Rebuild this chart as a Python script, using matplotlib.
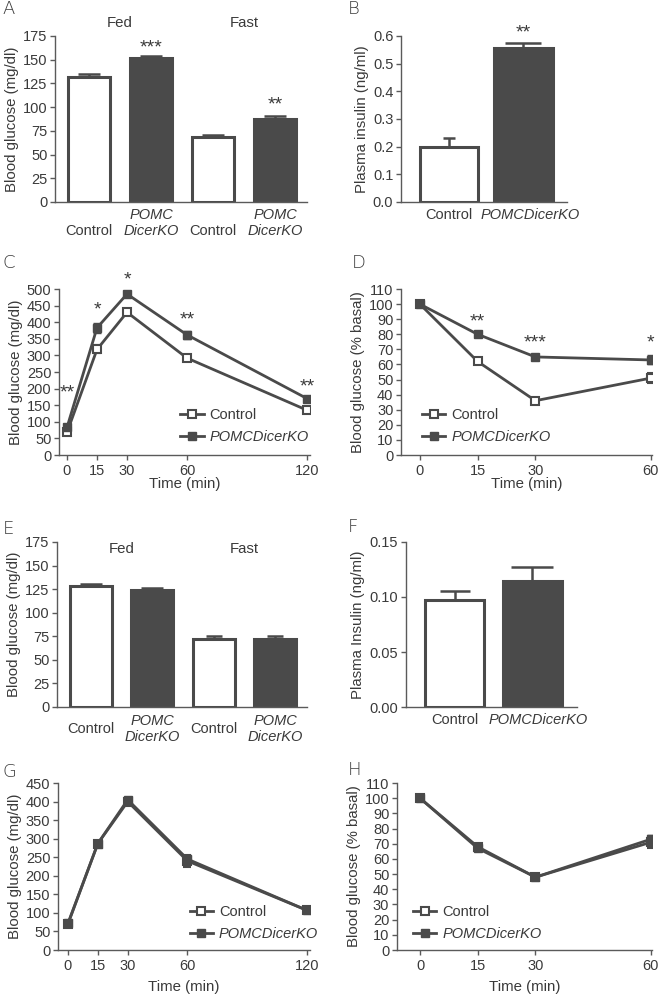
import matplotlib
matplotlib.use('Agg')
import matplotlib.pyplot as plt
from matplotlib.lines import Line2D
from matplotlib.transforms import ScaledTranslation
import numpy as np

plt.rcParams['font.family'] = ['Liberation Sans', 'DejaVu Sans']
plt.rcParams['font.size'] = 10.5

# ---- data ----
groups = ['Fed', 'Fast']
bar_labels_4 = ['\nControl', 'POMC\nDicerKO', '\nControl', 'POMC\nDicerKO']
bar_labels_2 = ['Control', 'POMCDicerKO']

# A: blood glucose, fed / fast
a_vals = [132, 152, 68, 87]
a_err = [3, 1.5, 2.5, 4]
a_stars = ['', '***', '', '**']
a_star_y = [0, 162, 0, 102]

# B: plasma insulin
b_vals = [0.20, 0.555]
b_err = [0.03, 0.02]
b_stars = ['', '**']
b_star_y = [0, 0.612]

# C: GTT
c_time = [0, 15, 30, 60, 120]
c_ctrl = [68, 318, 430, 292, 135]
c_ctrl_err = [4, 12, 8, 6, 6]
c_ko = [83, 383, 485, 362, 170]
c_ko_err = [5, 15, 10, 12, 5]
c_stars = ['**', '*', '*', '**', '**']
c_star_y = [186, 436, 528, 408, 206]

# D: ITT
d_time = [0, 15, 30, 60]
d_ctrl = [100, 62, 36, 51]
d_ctrl_err = [1, 2, 1, 3.5]
d_ko = [100, 80, 65, 63]
d_ko_err = [1, 1, 1, 3]
d_stars = ['', '**', '***', '*']
d_star_y = [0, 88, 74, 74]

# E: blood glucose, second cohort
e_vals = [128, 124, 72, 72]
e_err = [2, 2, 3.5, 3.5]

# F: plasma insulin, second cohort
f_vals = [0.097, 0.114]
f_err = [0.008, 0.013]

# G: GTT, second cohort
g_time = [0, 15, 30, 60, 120]
g_ctrl = [70, 287, 400, 240, 107]
g_ctrl_err = [4, 6, 8, 15, 4]
g_ko = [72, 287, 405, 245, 107]
g_ko_err = [4, 6, 8, 12, 4]

# H: ITT, second cohort
h_time = [0, 15, 30, 60]
h_ctrl = [100, 68, 48, 71]
h_ctrl_err = [1, 2, 2, 4]
h_ko = [100, 67, 48, 73]
h_ko_err = [1, 2, 2, 3]

DARK = '#4a4a4a'
TXT = '#3a3a3a'
SPINE = '#5a5a5a'
TICK_FS = 10.5
LAB_FS = 10.8
STAR_FS = 14


def style_axes(ax, xticks=True):
    for s in ['top', 'right']:
        ax.spines[s].set_visible(False)
    for s in ['left', 'bottom']:
        ax.spines[s].set_color(SPINE)
        ax.spines[s].set_linewidth(1.0)
    ax.tick_params(axis='y', direction='out', length=3.5, width=1, color=SPINE,
                   labelcolor=TXT, pad=2, labelsize=TICK_FS)
    if xticks:
        ax.tick_params(axis='x', direction='out', length=3.5, width=1, color=SPINE,
                       labelcolor=TXT, pad=3, labelsize=TICK_FS)
    else:
        ax.tick_params(axis='x', length=0, labelcolor=TXT, pad=4, labelsize=TICK_FS)


def bar_panel(ax, vals, err, labels, width, caps):
    x = np.arange(len(vals))
    colors = ['white' if i % 2 == 0 else DARK for i in range(len(vals))]
    for i in range(len(vals)):
        ax.errorbar(x[i], vals[i], yerr=[[0], [err[i]]], fmt='none', ecolor=DARK,
                    elinewidth=1.8, capsize=caps[i], capthick=1.8, zorder=1)
    ax.bar(x, vals, width=width, color=colors, edgecolor=DARK, linewidth=2.2, zorder=2)
    ax.set_xticks(x)
    ax.set_xticklabels(labels)
    for i, t in enumerate(ax.get_xticklabels()):
        if 'POMC' in labels[i]:
            t.set_style('italic')
    return x


def line_panel(ax, t, ctrl, ctrl_err, ko, ko_err):
    ax.errorbar(t, ctrl, yerr=ctrl_err, color=DARK, lw=2, marker='s', ms=6,
                mfc='white', mec=DARK, mew=1.5, ecolor=DARK, elinewidth=1.5,
                capsize=3, zorder=3)
    ax.errorbar(t, ko, yerr=ko_err, color=DARK, lw=2, marker='s', ms=6,
                mfc=DARK, mec=DARK, ecolor=DARK, elinewidth=1.5, capsize=3,
                zorder=4)
    ax.set_xticks(t)


def add_legend(ax, anchor):
    h = [Line2D([], [], color=DARK, lw=2, marker='s', ms=6, mfc='white', mec=DARK, mew=1.5),
         Line2D([], [], color=DARK, lw=2, marker='s', ms=6, mfc=DARK, mec=DARK)]
    leg = ax.legend(h, ['Control', 'POMCDicerKO'], loc='lower left', bbox_to_anchor=anchor,
                    frameon=False, fontsize=TICK_FS, handlelength=1.6, handletextpad=0.4,
                    labelspacing=0.55, borderaxespad=0, numpoints=1)
    for txt in leg.get_texts():
        txt.set_color(TXT)
    leg.get_texts()[1].set_style('italic')


def ylab(ax, text):
    ax.set_ylabel(text, color=TXT, fontsize=LAB_FS, labelpad=3)


def xlab(ax, text, pad):
    ax.set_xlabel(text, color=TXT, fontsize=LAB_FS, labelpad=pad)


def stars(ax, xs, ys, marks):
    for x, y, s in zip(xs, ys, marks):
        if s:
            ax.text(x, y, s, ha='center', va='center', color=TXT,
                    fontsize=STAR_FS, clip_on=False)


def nudge_label(ax, idx, dx_px):
    t = ax.get_xticklabels()[idx]
    t.set_transform(t.get_transform() + ScaledTranslation(dx_px / 100, 0, fig.dpi_scale_trans))


fig = plt.figure(figsize=(6.59, 9.97), dpi=100)

# ---- A ----
axA = fig.add_axes([0.0835, 0.7974, 0.3824, 0.1665])
xa = bar_panel(axA, a_vals, a_err, bar_labels_4, 0.68, [8, 8, 8, 8])
axA.set_xlim(-0.548, 3.516)
axA.set_ylim(0, 175)
axA.set_yticks(np.arange(0, 176, 25))
style_axes(axA, xticks=False)
ylab(axA, 'Blood glucose (mg/dl)')
axA.text(0.5, 189, groups[0], ha='center', va='center', color=TXT, fontsize=LAB_FS, clip_on=False)
axA.text(2.5, 189, groups[1], ha='center', va='center', color=TXT, fontsize=LAB_FS, clip_on=False)
stars(axA, xa, a_star_y, a_stars)

# ---- B ----
axB = fig.add_axes([0.6085, 0.7974, 0.2519, 0.1665])
xb = bar_panel(axB, b_vals, b_err, bar_labels_2, 0.78, [4, 13])
axB.set_xlim(-0.644, 1.584)
axB.set_ylim(0, 0.6)
axB.set_yticks(np.arange(0, 0.61, 0.1))
axB.set_yticklabels(['%.1f' % v for v in np.arange(0, 0.61, 0.1)])
style_axes(axB, xticks=False)
ylab(axB, 'Plasma insulin (ng/ml)')
stars(axB, xb, b_star_y, b_stars)

# ---- C ----
axC = fig.add_axes([0.0895, 0.5436, 0.381, 0.1665])
line_panel(axC, c_time, c_ctrl, c_ctrl_err, c_ko, c_ko_err)
axC.set_xlim(-4, 121.5)
axC.set_ylim(0, 500)
axC.set_yticks(np.arange(0, 501, 50))
style_axes(axC)
ylab(axC, 'Blood glucose (mg/dl)')
xlab(axC, 'Time (min)', -1)
add_legend(axC, (0.46, 0.03))
stars(axC, c_time, c_star_y, c_stars)

# ---- D ----
axD = fig.add_axes([0.6085, 0.5436, 0.381, 0.1665])
line_panel(axD, d_time, d_ctrl, d_ctrl_err, d_ko, d_ko_err)
axD.set_xlim(-4.9, 60.3)
axD.set_ylim(0, 110)
axD.set_yticks(np.arange(0, 111, 10))
style_axes(axD)
ylab(axD, 'Blood glucose (% basal)')
xlab(axD, 'Time (min)', -1)
add_legend(axD, (0.06, 0.03))
stars(axD, d_time, d_star_y, d_stars)

# ---- E ----
axE = fig.add_axes([0.0865, 0.2909, 0.3794, 0.1655])
bar_panel(axE, e_vals, e_err, [l.strip() for l in bar_labels_4], 0.68, [8, 8, 6, 6])
axE.set_xlim(-0.548, 3.516)
axE.set_ylim(0, 175)
axE.set_yticks(np.arange(0, 176, 25))
style_axes(axE, xticks=False)
axE.tick_params(axis='x', pad=16)
plt.setp(axE.get_xticklabels(), va='center')
ylab(axE, 'Blood glucose (mg/dl)')
axE.text(0.5, 168, groups[0], ha='center', va='center', color=TXT, fontsize=LAB_FS)
axE.text(2.5, 168, groups[1], ha='center', va='center', color=TXT, fontsize=LAB_FS)

# ---- F ----
axF = fig.add_axes([0.616, 0.2906, 0.2595, 0.166])
bar_panel(axF, f_vals, f_err, bar_labels_2, 0.76, [11, 15])
axF.set_xlim(-0.632, 1.574)
axF.set_ylim(0, 0.15)
axF.set_yticks([0, 0.05, 0.10, 0.15])
axF.set_yticklabels(['0.00', '0.05', '0.10', '0.15'])
style_axes(axF, xticks=False)
ylab(axF, 'Plasma Insulin (ng/ml)')

# ---- G ----
axG = fig.add_axes([0.088, 0.0471, 0.3824, 0.1675])
line_panel(axG, g_time, g_ctrl, g_ctrl_err, g_ko, g_ko_err)
axG.set_xlim(-5, 121.5)
axG.set_ylim(0, 450)
axG.set_yticks(np.arange(0, 451, 50))
style_axes(axG)
ylab(axG, 'Blood glucose (mg/dl)')
xlab(axG, 'Time (min)', 5)
add_legend(axG, (0.5, 0.02))

# ---- H ----
axH = fig.add_axes([0.6024, 0.0471, 0.387, 0.1675])
line_panel(axH, h_time, h_ctrl, h_ctrl_err, h_ko, h_ko_err)
axH.set_xlim(-6, 60.3)
axH.set_ylim(0, 110)
axH.set_yticks(np.arange(0, 111, 10))
style_axes(axH)
ylab(axH, 'Blood glucose (% basal)')
xlab(axH, 'Time (min)', 5)
add_legend(axH, (0.04, 0.02))

# italic KO labels sit a little right of the bar centre in B and F
nudge_label(axB, 1, 7)
nudge_label(axF, 1, 6)

# panel letters
letters = ['A', 'B', 'C', 'D', 'E', 'F', 'G', 'H']
letter_pos = [(0.0045, 0.991), (0.528, 0.991), (0.0045, 0.736), (0.534, 0.736),
              (0.0045, 0.4694), (0.528, 0.4714), (0.0045, 0.2257), (0.528, 0.2277)]
for lt, (lx, ly) in zip(letters, letter_pos):
    fig.text(lx, ly, lt, ha='left', va='center', fontsize=13, color=TXT,
             fontfamily='DejaVu Sans', fontweight='light')

fig.savefig('out.png', dpi=100, facecolor='white')
